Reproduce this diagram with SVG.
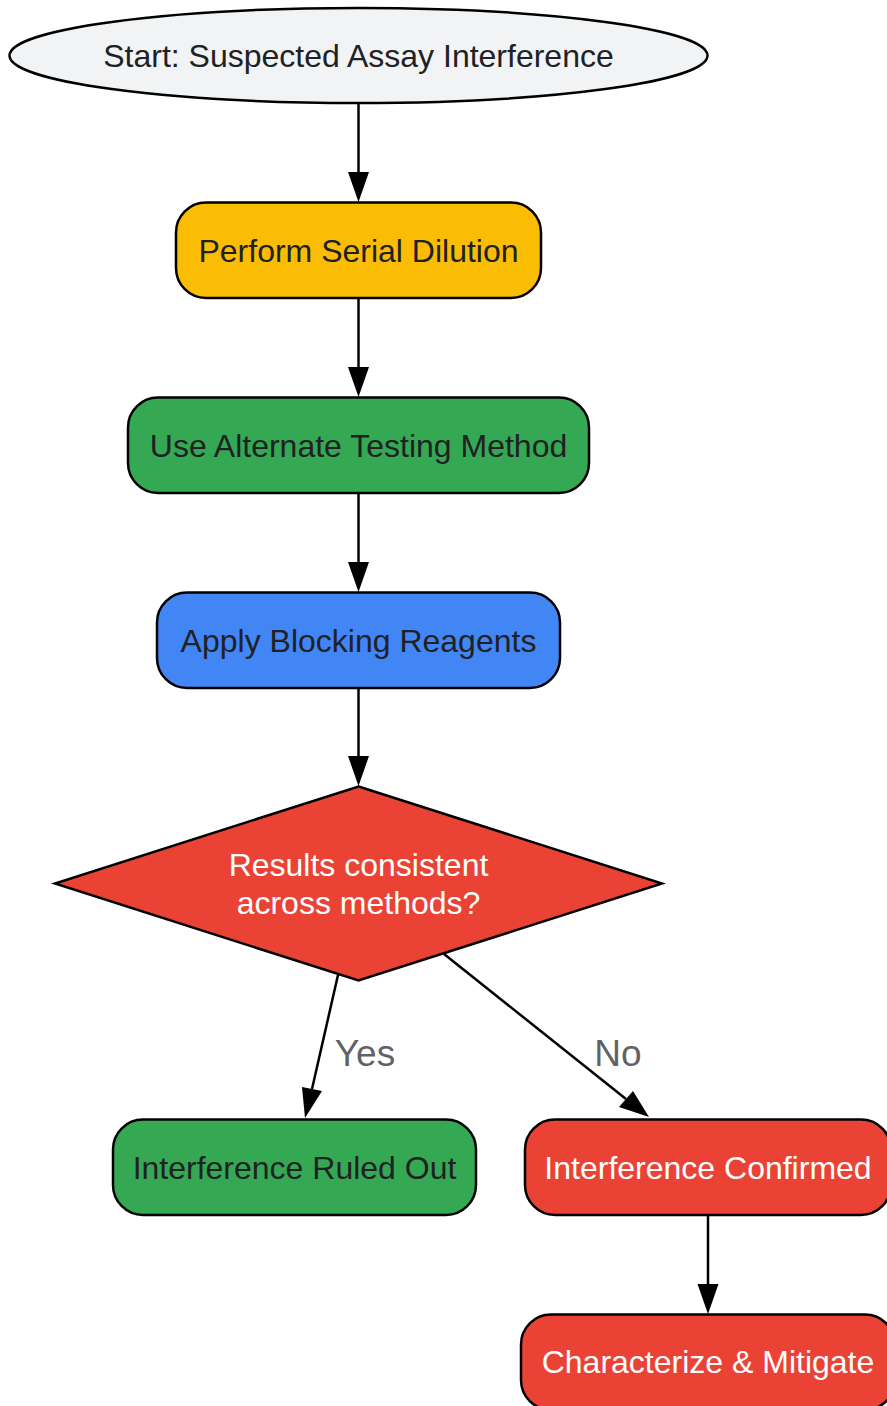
<svg xmlns="http://www.w3.org/2000/svg" width="887" height="1406" viewBox="0 0 887 1406">
<style>
.n{stroke:#000;stroke-width:2.5}
.t{font-family:"Liberation Sans",Arial,sans-serif;font-size:32px;text-anchor:middle;dominant-baseline:central;fill:#202124}
.w{fill:#ffffff}
.e{stroke:#000;stroke-width:2.5;fill:none}
.l{font-family:"Liberation Sans",Arial,sans-serif;font-size:37px;text-anchor:middle;dominant-baseline:central;fill:#5f6368}
</style>
<rect width="887" height="1406" fill="#fff"/>
<g id="edges">
<path class="e" d="M358.5,104 L358.5,172"/>
<polygon points="348,172 369,172 358.5,202"/>
<path class="e" d="M358.5,299 L358.5,367"/>
<polygon points="348,367 369,367 358.5,397"/>
<path class="e" d="M358.5,494 L358.5,562"/>
<polygon points="348,562 369,562 358.5,592"/>
<path class="e" d="M358.5,689 L358.5,756"/>
<polygon points="348,756 369,756 358.5,786"/>
<path class="e" d="M338,975 L312,1089"/>
<polygon points="302,1087 322,1091 305,1118"/>
<path class="e" d="M444,954 L626,1099"/>
<polygon points="619,1107 633,1091 649,1117"/>
<path class="e" d="M708,1216 L708,1284"/>
<polygon points="697.5,1284 718.5,1284 708,1314"/>
<text class="l" x="365" y="1053">Yes</text>
<text class="l" x="618" y="1053">No</text>
</g>
<g id="start">
<ellipse class="n" cx="358.5" cy="55.5" rx="349" ry="47.5" fill="#f1f3f4"/>
<text class="t" x="358.5" y="56">Start: Suspected Assay Interference</text>
</g>
<g id="dilution">
<rect class="n" x="176" y="202.5" width="365" height="95.5" rx="30" fill="#fbbc04"/>
<text class="t" x="358.5" y="251">Perform Serial Dilution</text>
</g>
<g id="alternate">
<rect class="n" x="128" y="397.5" width="461" height="95.5" rx="30" fill="#34a853"/>
<text class="t" x="358.5" y="446">Use Alternate Testing Method</text>
</g>
<g id="blocking">
<rect class="n" x="157" y="592.5" width="403" height="95.5" rx="30" fill="#4285f4"/>
<text class="t" x="358.5" y="641">Apply Blocking Reagents</text>
</g>
<g id="decision">
<polygon class="n" points="358.5,786.5 662,883.5 358.5,980.5 55,883.5" fill="#ea4335"/>
<text class="t w" x="358.5" y="865">Results consistent</text>
<text class="t w" x="358.5" y="903">across methods?</text>
</g>
<g id="ruledout">
<rect class="n" x="113" y="1119.5" width="363" height="95.5" rx="30" fill="#34a853"/>
<text class="t" x="294.5" y="1168">Interference Ruled Out</text>
</g>
<g id="confirmed">
<rect class="n" x="525" y="1119.5" width="366" height="95.5" rx="30" fill="#ea4335"/>
<text class="t w" x="708" y="1168">Interference Confirmed</text>
</g>
<g id="mitigate">
<rect class="n" x="521" y="1314.5" width="374" height="95.5" rx="30" fill="#ea4335"/>
<text class="t w" x="708" y="1362">Characterize &amp; Mitigate</text>
</g>
</svg>
